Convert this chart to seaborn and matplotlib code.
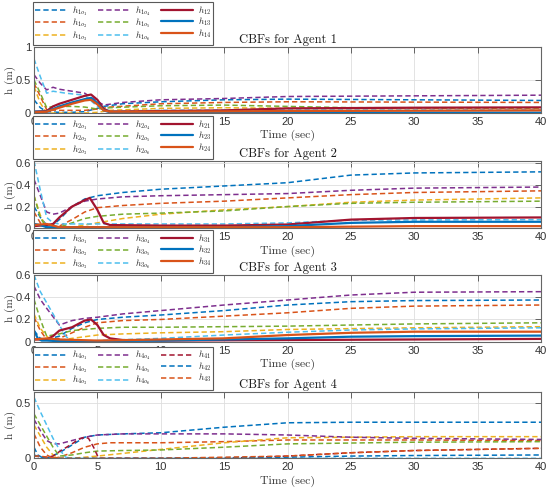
import matplotlib
matplotlib.use("Agg")
import matplotlib.pyplot as plt
import pandas as pd
import seaborn as sns

sns.set_style("white")
plt.rcParams['mathtext.fontset'] = 'cm'
plt.rcParams['font.family'] = ['Liberation Sans', 'DejaVu Sans']
plt.rcParams['lines.scale_dashes'] = False
plt.rcParams['lines.dashed_pattern'] = (3.8, 2.2)
SERIF = ['cmr10', 'DejaVu Serif']

# MATLAB default colours
BLUE, ORANGE, YELLOW = '#0072BD', '#D95319', '#EDB120'
PURPLE, GREEN, LBLUE, DRED = '#7E2F8E', '#77AC30', '#4DBEEE', '#A2142F'

# ---------------- Agent 1 ----------------
a1_o1_t = [0, 0.5, 1, 2, 3, 4, 5, 5.5, 7, 10, 15, 20, 40]
a1_o1_h = [0.2, 0.08, 0.02, 0.01, 0.01, 0.02, 0.07, 0.1, 0.14, 0.17, 0.2, 0.21, 0.19]
a1_o2_t = [0, 0.5, 1, 2, 3, 4, 5, 6, 10, 15, 20, 40]
a1_o2_h = [0.45, 0.25, 0.05, 0.04, 0.04, 0.04, 0.06, 0.09, 0.14, 0.16, 0.17, 0.16]
a1_o3_t = [0, 0.5, 1, 2, 4, 5, 6, 10, 15, 20, 40]
a1_o3_h = [0.4, 0.15, 0.0, 0.0, 0.0, 0.01, 0.04, 0.07, 0.08, 0.07, 0.07]
a1_o4_t = [0, 0.5, 1, 1.5, 2, 3, 4, 4.8, 5.5, 7, 10, 15, 20, 30, 40]
a1_o4_h = [0.58, 0.45, 0.35, 0.39, 0.36, 0.33, 0.3, 0.2, 0.12, 0.16, 0.2, 0.22, 0.25, 0.26, 0.27]
a1_o5_t = [0, 0.5, 1, 1.5, 2, 3, 4, 5, 6, 10, 15, 20, 25, 40]
a1_o5_h = [0.5, 0.3, 0.08, 0.1, 0.1, 0.1, 0.09, 0.06, 0.08, 0.11, 0.12, 0.1, 0.08, 0.08]
a1_o6_t = [0, 0.5, 1, 1.5, 2.5, 4, 5, 6, 10, 20, 40]
a1_o6_h = [0.82, 0.55, 0.3, 0.33, 0.3, 0.27, 0.1, 0.03, 0.04, 0.045, 0.045]
a1_12_t = [0, 1, 1.5, 2, 3, 4, 4.5, 5, 5.5, 6, 10, 15, 20, 30, 40]
a1_12_h = [0.02, 0.03, 0.1, 0.14, 0.2, 0.26, 0.28, 0.2, 0.06, 0.02, 0.03, 0.04, 0.07, 0.08, 0.085]
a1_13_t = [0, 1, 1.5, 2, 3, 4, 4.5, 5, 5.5, 6, 10, 20, 40]
a1_13_h = [0.02, 0.02, 0.06, 0.1, 0.16, 0.21, 0.23, 0.15, 0.04, 0.01, 0.005, 0.005, 0.005]
a1_14_t = [0, 1, 1.5, 2, 3, 4, 4.5, 5, 5.5, 6, 10, 20, 40]
a1_14_h = [0.01, 0.02, 0.05, 0.08, 0.14, 0.19, 0.2, 0.13, 0.04, 0.02, 0.02, 0.03, 0.04]

# ---------------- Agent 2 ----------------
a2_o1_t = [0, 0.5, 1, 1.5, 2, 3, 4, 5, 7, 10, 15, 20, 25, 30, 40]
a2_o1_h = [0.2, 0.1, 0.03, 0.03, 0.08, 0.2, 0.27, 0.3, 0.33, 0.36, 0.39, 0.42, 0.49, 0.51, 0.52]
a2_o2_t = [0, 0.5, 1, 2, 3, 4, 5, 7, 10, 15, 20, 25, 30, 40]
a2_o2_h = [0.15, 0.05, 0.01, 0.02, 0.08, 0.15, 0.19, 0.21, 0.23, 0.25, 0.28, 0.31, 0.33, 0.345]
a2_o3_t = [0, 0.5, 1, 2, 3, 5, 7, 10, 15, 20, 25, 30, 40]
a2_o3_h = [0.3, 0.12, 0.0, 0.0, 0.01, 0.05, 0.09, 0.13, 0.17, 0.2, 0.24, 0.26, 0.28]
a2_o4_t = [0, 0.5, 1, 1.5, 2, 3, 4, 5, 7, 10, 15, 20, 25, 30, 40]
a2_o4_h = [0.45, 0.3, 0.15, 0.13, 0.14, 0.2, 0.25, 0.27, 0.29, 0.3, 0.31, 0.32, 0.35, 0.37, 0.38]
a2_o5_t = [0, 0.5, 1, 2, 3, 4, 5, 7, 10, 15, 20, 25, 30, 40]
a2_o5_h = [0.3, 0.1, 0.0, 0.01, 0.05, 0.09, 0.11, 0.13, 0.14, 0.16, 0.2, 0.23, 0.24, 0.25]
a2_o6_t = [0, 0.5, 1, 1.5, 2, 5, 10, 15, 20, 25, 40]
a2_o6_h = [0.62, 0.35, 0.1, 0.05, 0.04, 0.04, 0.04, 0.04, 0.05, 0.075, 0.08]
a2_21_t = [0, 1, 1.5, 2, 3, 4, 4.4, 5, 5.5, 6, 10, 15, 20, 25, 30, 40]
a2_21_h = [0.02, 0.03, 0.04, 0.1, 0.2, 0.26, 0.28, 0.17, 0.05, 0.03, 0.025, 0.025, 0.035, 0.08, 0.095, 0.1]
a2_23_t = [0, 0.5, 1, 2, 5, 10, 15, 20, 25, 30, 40]
a2_23_h = [0.04, 0.03, 0.01, 0.01, 0.01, 0.01, 0.01, 0.02, 0.05, 0.06, 0.06]
a2_24_t = [0, 1, 2, 5, 10, 20, 30, 40]
a2_24_h = [0.03, 0.04, 0.01, 0.01, 0.01, 0.01, 0.02, 0.02]

# ---------------- Agent 3 ----------------
a3_o1_t = [0, 0.5, 1, 2, 3, 4, 5, 7, 10, 15, 20, 25, 30, 40]
a3_o1_h = [0.1, 0.03, 0.02, 0.05, 0.12, 0.17, 0.2, 0.22, 0.24, 0.28, 0.33, 0.36, 0.37, 0.375]
a3_o2_t = [0, 0.5, 1, 2, 3, 4, 5, 7, 10, 15, 20, 25, 30, 40]
a3_o2_h = [0.22, 0.1, 0.02, 0.03, 0.08, 0.13, 0.17, 0.19, 0.2, 0.23, 0.26, 0.3, 0.32, 0.33]
a3_o3_t = [0, 0.5, 1, 1.5, 2, 3, 5, 7, 10, 15, 20, 30, 40]
a3_o3_h = [0.25, 0.12, 0.05, 0.0, 0.01, 0.03, 0.06, 0.07, 0.08, 0.09, 0.11, 0.125, 0.135]
a3_o4_t = [0, 0.5, 1, 2, 3, 4, 5, 7, 10, 15, 20, 25, 30, 40]
a3_o4_h = [0.5, 0.38, 0.3, 0.15, 0.19, 0.21, 0.22, 0.25, 0.28, 0.33, 0.375, 0.42, 0.445, 0.45]
a3_o5_t = [0, 0.5, 1, 2, 3, 5, 7, 10, 15, 20, 30, 40]
a3_o5_h = [0.38, 0.2, 0.05, 0.07, 0.1, 0.12, 0.13, 0.13, 0.135, 0.14, 0.16, 0.17]
a3_o6_t = [0, 0.5, 1, 1.5, 2, 2.5, 3, 5, 10, 15, 20, 25, 30, 40]
a3_o6_h = [0.6, 0.45, 0.35, 0.25, 0.15, 0.05, 0.0, 0.01, 0.03, 0.06, 0.085, 0.105, 0.115, 0.125]
a3_31_t = [0, 1, 1.5, 2, 3, 4, 4.5, 5, 5.5, 6, 7, 10, 20, 30, 40]
a3_31_h = [0.02, 0.02, 0.05, 0.1, 0.13, 0.19, 0.2, 0.15, 0.06, 0.03, 0.015, 0.01, 0.015, 0.02, 0.025]
a3_32_t = [0, 0.3, 0.6, 1, 2, 5, 10, 15, 20, 25, 30, 40]
a3_32_h = [0.1, 0.03, 0.01, 0.01, 0.005, 0.005, 0.01, 0.02, 0.03, 0.045, 0.05, 0.055]
a3_34_t = [0, 1, 2, 5, 10, 15, 20, 25, 30, 40]
a3_34_h = [0.02, 0.03, 0.02, 0.01, 0.02, 0.03, 0.06, 0.08, 0.09, 0.09]

# ---------------- Agent 4 ----------------
a4_o1_t = [0, 0.3, 0.6, 1, 2, 3, 4, 5, 7, 10, 15, 20, 25, 30, 40]
a4_o1_h = [0.1, 0.03, 0.01, 0.0, 0.05, 0.12, 0.19, 0.21, 0.22, 0.23, 0.28, 0.32, 0.325, 0.325, 0.325]
a4_o2_t = [0, 0.5, 1, 1.5, 2, 3, 4, 5, 6, 10, 15, 20, 30, 40]
a4_o2_h = [0.22, 0.1, 0.03, 0.0, 0.01, 0.05, 0.1, 0.13, 0.14, 0.14, 0.15, 0.165, 0.165, 0.16]
a4_o3_t = [0, 0.5, 1, 1.5, 2, 3, 5, 10, 15, 20, 25, 30, 40]
a4_o3_h = [0.3, 0.2, 0.1, 0.03, 0.0, 0.0, 0.02, 0.08, 0.14, 0.185, 0.19, 0.195, 0.195]
a4_o4_t = [0, 0.5, 1, 1.5, 2, 3, 4, 5, 7, 10, 15, 20, 25, 30, 40]
a4_o4_h = [0.35, 0.25, 0.16, 0.13, 0.13, 0.16, 0.19, 0.21, 0.22, 0.22, 0.22, 0.21, 0.19, 0.18, 0.17]
a4_o5_t = [0, 0.5, 1, 1.5, 2, 3, 4, 5, 7, 10, 15, 20, 30, 40]
a4_o5_h = [0.4, 0.3, 0.2, 0.1, 0.02, 0.03, 0.05, 0.065, 0.07, 0.075, 0.1, 0.13, 0.145, 0.15]
a4_o6_t = [0, 0.5, 1, 1.5, 2, 2.5, 3, 40]
a4_o6_h = [0.55, 0.42, 0.3, 0.18, 0.08, 0.01, 0.0, 0.0]
a4_41_t = [0, 1, 1.5, 2, 3, 3.5, 4, 4.3, 4.7, 5.1, 6, 10, 15, 20, 25, 30, 40]
a4_41_h = [0.02, 0.01, 0.02, 0.06, 0.13, 0.17, 0.19, 0.18, 0.1, 0.0, 0.0, 0.0, 0.0, 0.02, 0.05, 0.07, 0.09]
a4_42_t = [0, 0.5, 1, 2, 5, 10, 15, 20, 25, 30, 40]
a4_42_h = [0.03, 0.01, 0.0, 0.0, 0.0, 0.0, 0.005, 0.01, 0.02, 0.025, 0.03]
a4_43_t = [0, 0.5, 1, 2, 5, 10, 15, 20, 25, 30, 40]
a4_43_h = [0.02, 0.02, 0.01, 0.0, 0.0, 0.0, 0.01, 0.02, 0.05, 0.07, 0.09]

titles = ['CBFs for Agent 1', 'CBFs for Agent 2', 'CBFs for Agent 3', 'CBFs for Agent 4']
yticks_list = [[0, 0.5, 1], [0, 0.2, 0.4, 0.6], [0, 0.2, 0.4, 0.6], [0, 0.5]]
ytick_labels = [['0', '0.5', '1'], ['0', '0.2', '0.4', '0.6'], ['0', '0.2', '0.4', '0.6'], ['0', '0.5']]
ylims = [(0, 1), (0, 0.62), (0, 0.6), (0, 0.6)]
xticks = [0, 5, 10, 15, 20, 25, 30, 35, 40]

obst_colors = [BLUE, ORANGE, YELLOW, PURPLE, GREEN, LBLUE]
pair_colors = [DRED, BLUE, ORANGE]

panels = [
    [(a1_o1_t, a1_o1_h), (a1_o2_t, a1_o2_h), (a1_o3_t, a1_o3_h), (a1_o4_t, a1_o4_h),
     (a1_o5_t, a1_o5_h), (a1_o6_t, a1_o6_h), (a1_12_t, a1_12_h), (a1_13_t, a1_13_h), (a1_14_t, a1_14_h)],
    [(a2_o1_t, a2_o1_h), (a2_o2_t, a2_o2_h), (a2_o3_t, a2_o3_h), (a2_o4_t, a2_o4_h),
     (a2_o5_t, a2_o5_h), (a2_o6_t, a2_o6_h), (a2_21_t, a2_21_h), (a2_23_t, a2_23_h), (a2_24_t, a2_24_h)],
    [(a3_o1_t, a3_o1_h), (a3_o2_t, a3_o2_h), (a3_o3_t, a3_o3_h), (a3_o4_t, a3_o4_h),
     (a3_o5_t, a3_o5_h), (a3_o6_t, a3_o6_h), (a3_31_t, a3_31_h), (a3_32_t, a3_32_h), (a3_34_t, a3_34_h)],
    [(a4_o1_t, a4_o1_h), (a4_o2_t, a4_o2_h), (a4_o3_t, a4_o3_h), (a4_o4_t, a4_o4_h),
     (a4_o5_t, a4_o5_h), (a4_o6_t, a4_o6_h), (a4_41_t, a4_41_h), (a4_42_t, a4_42_h), (a4_43_t, a4_43_h)],
]
pair_ids = [['12', '13', '14'], ['21', '23', '24'], ['31', '32', '34'], ['41', '42', '43']]

fig = plt.figure(figsize=(5.5, 4.91), dpi=100)
W, H = 550.0, 491.0
ax_left, ax_right = 34, 541
ax_tb = [(47, 113), (161, 228.3), (275, 341.7), (391.7, 458.3)]

for k in range(4):
    top, bot = ax_tb[k]
    ax = fig.add_axes([ax_left / W, 1 - bot / H, (ax_right - ax_left) / W, (bot - top) / H])
    agent = k + 1
    labels = [rf'$h_{{{agent}o_{{{i}}}}}$' for i in range(1, 7)] + \
             [rf'$h_{{{p}}}$' for p in pair_ids[k]]
    colors = obst_colors + pair_colors
    for j, (t, h) in enumerate(panels[k]):
        df = pd.DataFrame({'t': t, 'h': h})
        if j < 6 or k == 3:
            ls, lw = '--', 1.1
        else:
            ls, lw = '-', 1.6
        sns.lineplot(data=df, x='t', y='h', ax=ax, color=colors[j], linestyle=ls,
                     linewidth=lw, label=labels[j], estimator=None, sort=False)
    ax.set_xlim(0, 40)
    ax.set_ylim(*ylims[k])
    ax.set_xticks(xticks)
    ax.set_xticklabels([str(x) for x in xticks])
    ax.set_yticks(yticks_list[k])
    ax.set_yticklabels(ytick_labels[k])
    ax.grid(True, color='0.87', linewidth=0.6)
    ax.tick_params(direction='in', top=True, right=True, length=4, width=0.6,
                   color='0.3', labelcolor='0.2', labelsize=8, pad=3)
    ax.tick_params(axis='y', pad=2.2)
    for s in ax.spines.values():
        s.set_color('0.4')
        s.set_linewidth(0.8)
    ax.set_xlabel('Time (sec)', family=SERIF, fontsize=8.5, color='0.2', labelpad=2)
    ax.set_ylabel('h (m)', family=SERIF, fontsize=8, color='0.2')
    ax.yaxis.set_label_coords((15.5 - ax_left) / (ax_right - ax_left), 0.5)
    ax.set_title(titles[k], family=SERIF, fontsize=9, pad=3, color='0.1')
    leg = ax.legend(ncol=3, loc='lower left', bbox_to_anchor=(-0.002, 1.0 + 2.0 / (bot - top)),
                    fontsize=6.5, handlelength=3.6, handletextpad=0.45, columnspacing=1.2,
                    labelspacing=-0.12, borderpad=0.25, borderaxespad=0.0,
                    frameon=True, fancybox=False, framealpha=1.0, edgecolor='0.35')
    leg.get_frame().set_linewidth(0.8)
    leg.set_zorder(10)

fig.savefig('out.png', dpi=100)
